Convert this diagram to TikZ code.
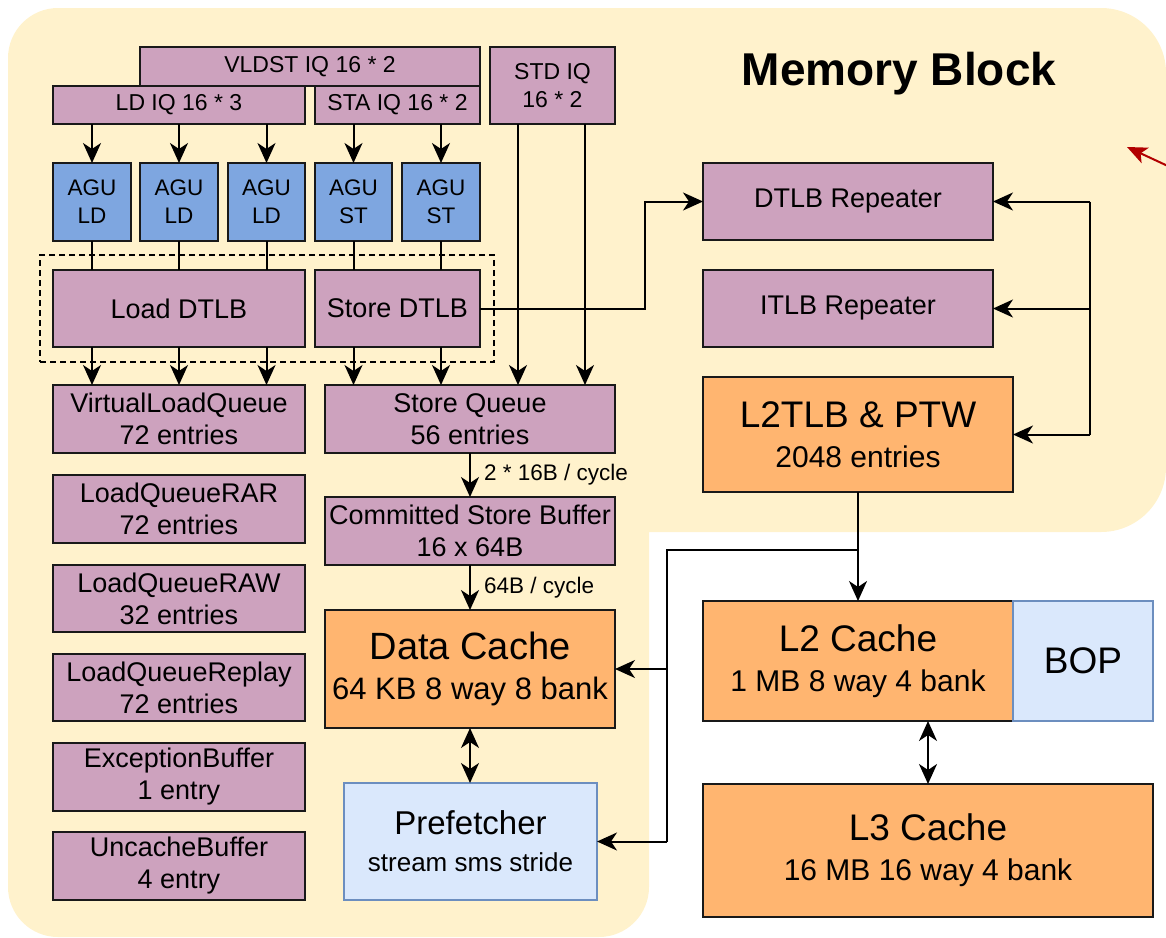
\documentclass[tikz,border=0pt]{standalone}
\usepackage{fontspec}
\setmainfont{Liberation Sans}
\usetikzlibrary{arrows.meta}
\definecolor{bgc}{HTML}{FFF2CC}
\definecolor{purp}{HTML}{CDA2BE}
\definecolor{agublue}{HTML}{7EA6E0}
\definecolor{orng}{HTML}{FFB570}
\definecolor{lbfill}{HTML}{DAE8FC}
\definecolor{lbdraw}{HTML}{6C8EBF}
\definecolor{redarr}{HTML}{B20000}
\newcommand\blk[7]{\node[#2, anchor=north west, minimum width={#5-#3}, minimum height={#6-#4}] (#1) at (#3,#4) {#7};}
\begin{document}
\begin{tikzpicture}[x=1pt,y=-1pt,
  box/.style={draw=black!90, line width=2pt, inner sep=0pt, outer sep=0pt, align=center, text=black},
  pbox/.style={box, fill=purp, font=\fontsize{27}{32}\selectfont},
  iqbox/.style={box, fill=purp, font=\fontsize{23}{28}\selectfont},
  agubox/.style={box, fill=agublue, font=\fontsize{22.5}{28}\selectfont},
  obox/.style={box, fill=orng, font=\fontsize{30}{40}\selectfont},
  lbbox/.style={box, draw=lbdraw, fill=lbfill, font=\fontsize{26}{37}\selectfont},
  dashbox/.style={draw=black, line width=1.5pt, dash pattern=on 6pt off 4pt, inner sep=0pt, outer sep=0pt},
  ln/.style={line width=2pt, draw=black},
  arr/.style={ln, -{Stealth[length=20pt,width=18pt,inset=6pt]}},
  darr/.style={ln, {Stealth[length=20pt,width=18pt,inset=6pt]}-{Stealth[length=20pt,width=18pt,inset=6pt]}},
  elabel/.style={anchor=west, inner sep=0pt, font=\fontsize{22.5}{26}\selectfont},
]
\useasboundingbox (0,0) rectangle (1166,937);
% background
\fill[bgc] (8,400) [rounded corners=50] -- (8,8) [rounded corners=65] -- (1166,8) -- (1166,532) [sharp corners] -- (649,532) [rounded corners=50] -- (649,937) -- (8,937) [sharp corners] -- cycle;

\node[font=\bfseries\fontsize{46}{50}\selectfont, anchor=base, inner sep=0pt] (title) at (899,85) {Memory Block};

% dashed TLB group
\blk{dgroup}{dashbox}{40}{255}{494}{362}{}

% issue queues
\blk{vldst}{iqbox}{140}{47}{480}{86}{VLDST IQ 16 * 2}
\blk{ldiq}{iqbox}{53}{86}{305}{124}{LD IQ 16 * 3}
\blk{staiq}{iqbox}{315}{86}{480}{124}{STA IQ 16 * 2}
\blk{stdiq}{iqbox}{490}{47}{615}{124}{STD IQ\\16 * 2}

% AGUs
\blk{agua}{agubox}{53}{163}{131}{241}{AGU\\LD}
\blk{agub}{agubox}{140}{163}{218}{241}{AGU\\LD}
\blk{aguc}{agubox}{228}{163}{305}{241}{AGU\\LD}
\blk{agud}{agubox}{315}{163}{392}{241}{AGU\\ST}
\blk{ague}{agubox}{402}{163}{480}{241}{AGU\\ST}

% DTLBs
\blk{ldtlb}{pbox}{53}{270}{305}{347}{Load DTLB}
\blk{sdtlb}{pbox}{315}{270}{480}{347}{Store DTLB}

% queues
\blk{vlq}{pbox}{53}{385}{305}{453}{VirtualLoadQueue\\72 entries}
\blk{sq}{pbox}{325}{385}{615}{453}{Store Queue\\56 entries}
\blk{rar}{pbox}{53}{475}{305}{543}{LoadQueueRAR\\72 entries}
\blk{csb}{pbox}{325}{497}{615}{565}{Committed Store Buffer\\16 x 64B}
\blk{raw}{pbox}{53}{565}{305}{632}{LoadQueueRAW\\32 entries}
\blk{replay}{pbox}{53}{654}{305}{721}{LoadQueueReplay\\72 entries}
\blk{exc}{pbox}{53}{743}{305}{811}{ExceptionBuffer\\1 entry}
\blk{unc}{pbox}{53}{832}{305}{900}{UncacheBuffer\\4 entry}

\blk{dc}{obox}{325}{610}{615}{728}{{\fontsize{38}{40}\selectfont Data Cache}\\{\fontsize{31}{40}\selectfont 64 KB 8 way 8 bank}}
\blk{pf}{lbbox}{344}{783}{597}{900}{{\fontsize{33}{37}\selectfont Prefetcher}\\stream sms stride}

% right side
\blk{dtlbr}{pbox}{703}{163}{993}{240}{DTLB Repeater}
\blk{itlbr}{pbox}{703}{270}{993}{347}{ITLB Repeater}
\blk{l2tlb}{obox}{703}{377}{1013}{492}{{\fontsize{37}{40}\selectfont L2TLB \& PTW}\\2048 entries}
\blk{l2c}{obox}{703}{601}{1013}{721}{{\fontsize{37}{38}\selectfont L2 Cache}\\1 MB 8 way 4 bank}
\blk{bop}{lbbox}{1013}{601}{1153}{721}{\fontsize{37}{40}\selectfont BOP}
\blk{l3}{obox}{703}{784}{1153}{917}{{\fontsize{37}{38}\selectfont L3 Cache}\\16 MB 16 way 4 bank}

% IQ -> AGU
\foreach \a in {agua,agub,aguc} \draw[arr] (ldiq.south -| \a.north) -- (\a.north);
\foreach \a in {agud,ague} \draw[arr] (staiq.south -| \a.north) -- (\a.north);
% AGU -> DTLB
\foreach \a in {agua,agub,aguc} \draw[ln] (\a.south) -- (\a.south |- ldtlb.north);
\foreach \a in {agud,ague} \draw[ln] (\a.south) -- (\a.south |- sdtlb.north);
% DTLB -> queues
\foreach \a in {agua,agub,aguc} \draw[arr] (\a.south |- ldtlb.south) -- (\a.south |- vlq.north);
\foreach \a in {agud,ague} \draw[arr] (\a.south |- sdtlb.south) -- (\a.south |- sq.north);
% STD IQ -> Store Queue
\coordinate (stdA) at (518,0);
\coordinate (stdB) at (585,0);
\draw[arr] (stdA |- stdiq.south) -- (stdA |- sq.north);
\draw[arr] (stdB |- stdiq.south) -- (stdB |- sq.north);
% Store DTLB -> DTLB Repeater
\coordinate (bendA) at (645,0);
\draw[arr] (sdtlb.east) -- (sdtlb.east -| bendA) |- (dtlbr.west);
% Store queue chain
\draw[arr] (sq.south) -- (csb.north) node[elabel, midway, xshift=13pt] {2 * 16B / cycle};
\draw[arr] (csb.south) -- (dc.north) node[elabel, midway, xshift=13pt] {64B / cycle};
\draw[darr] (dc.south) -- (dc.south |- pf.north);
% right bus
\coordinate (busR) at (1090,0);
\draw[ln] (busR |- dtlbr.east) -- (busR |- l2tlb.east);
\draw[arr] (busR |- dtlbr.east) -- (dtlbr.east);
\draw[arr] (busR |- itlbr.east) -- (itlbr.east);
\draw[arr] (busR |- l2tlb.east) -- (l2tlb.east);
% L2TLB -> L2 and refill
\draw[arr] (l2tlb.south) -- (l2c.north);
\coordinate (brY) at (0,550);
\coordinate (busL) at (667,0);
\draw[ln] (l2tlb.south |- brY) -- (busL |- brY) -- (busL |- pf.east);
\draw[arr] (busL |- dc.east) -- (dc.east);
\draw[arr] (busL |- pf.east) -- (pf.east);
% L2 <-> L3
\draw[darr] (l3.north |- l2c.south) -- (l3.north);
% red arrow
\coordinate (redS) at (1170,167);
\coordinate (redE) at (1127,147);
\draw[line width=2pt, redarr, -{Stealth[length=20pt,width=17pt,inset=5pt]}] (redS) -- (redE);
\end{tikzpicture}
\end{document}
